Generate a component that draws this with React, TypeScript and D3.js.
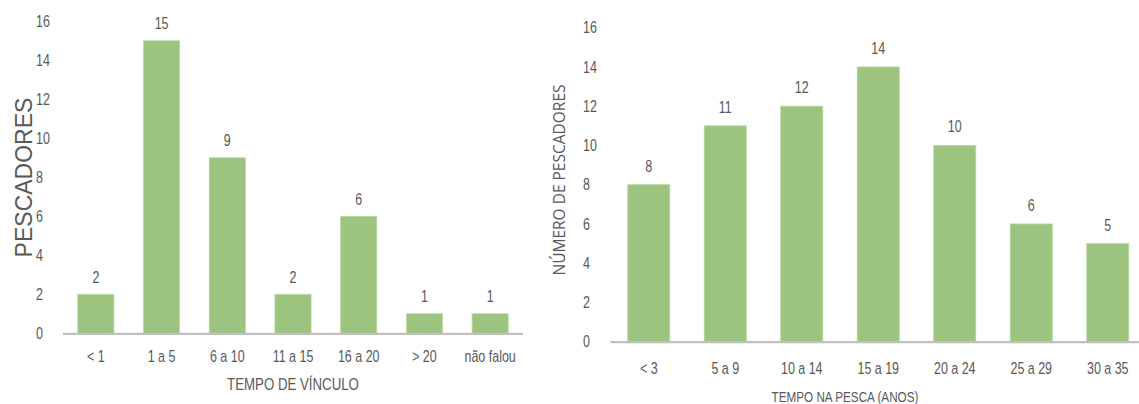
import React from "react";
import * as d3 from "d3";

// Left panel: time of association (years)
const vinculoCategories = ["< 1", "1 a 5", "6 a 10", "11 a 15", "16 a 20", "> 20", "não falou"];
const vinculoValues = [2, 15, 9, 2, 6, 1, 1];

// Right panel: years working in fishing
const pescaCategories = ["< 3", "5 a 9", "10 a 14", "15 a 19", "20 a 24", "25 a 29", "30 a 35"];
const pescaValues = [8, 11, 12, 14, 10, 6, 5];

const yTicks = [0, 2, 4, 6, 8, 10, 12, 14, 16];

const W = 1139;
const H = 404;
const BAR = "#9cc47f";
const BAR_EDGE = "#b9d8a5";
const TEXT = "#595959";
const AXIS = "#c0c0c0";
const FONT = "'Liberation Sans', Arial, sans-serif";

type TxtProps = {
  x: number;
  y: number;
  size: number;
  anchor?: "start" | "middle" | "end";
  sx?: number;
  children: React.ReactNode;
};

// Narrow-looking label: horizontally compressed around its anchor point
function Narrow({ x, y, size, anchor = "middle", sx = 0.78, children }: TxtProps) {
  return (
    <text
      transform={`translate(${x},${y}) scale(${sx},1)`}
      textAnchor={anchor}
      fontFamily={FONT}
      fontSize={size}
      fill={TEXT}
    >
      {children}
    </text>
  );
}

type PanelProps = {
  categories: string[];
  values: number[];
  xRange: [number, number];
  yRange: [number, number];
  tickX: number;
  labelY: number;
  titleX: number;
  titleY: number;
  title: string;
  titleSize: number;
  labelSize: number;
  labelGap: number;
};

function Panel(p: PanelProps) {
  const x = d3
    .scaleBand<string>()
    .domain(p.categories)
    .range(p.xRange)
    .paddingInner(0.45)
    .paddingOuter(0.225);
  const y = d3.scaleLinear().domain([0, 16]).range(p.yRange);

  return (
    <g>
      {yTicks.map((t) => (
        <Narrow key={t} x={p.tickX} y={y(t) + 5.7} size={16} anchor="start">
          {t}
        </Narrow>
      ))}
      {p.categories.map((c, i) => (
        <g key={c}>
          <rect
            x={x(c)!}
            y={y(p.values[i])}
            width={x.bandwidth()}
            height={y(0) - y(p.values[i])}
            fill={BAR}
            stroke={BAR_EDGE}
            strokeWidth={0.8}
          />
          <Narrow x={x(c)! + x.bandwidth() / 2} y={y(p.values[i]) - p.labelGap} size={16}>
            {p.values[i]}
          </Narrow>
          <Narrow x={x(c)! + x.bandwidth() / 2} y={p.labelY} size={p.labelSize}>
            {c}
          </Narrow>
        </g>
      ))}
      <line
        x1={p.xRange[0]}
        x2={p.xRange[1]}
        y1={y(0) + 0.5}
        y2={y(0) + 0.5}
        stroke={AXIS}
        strokeWidth={2.2}
      />
      <Narrow x={p.titleX} y={p.titleY} size={p.titleSize}>
        {p.title}
      </Narrow>
    </g>
  );
}

export default function App() {
  return (
    <svg
      width={W}
      height={H}
      viewBox={`0 0 ${W} ${H}`}
      style={{ position: "absolute", left: 0, top: 0, background: "#fff" }}
    >
      <Panel
        categories={vinculoCategories}
        values={vinculoValues}
        xRange={[63, 523]}
        yRange={[333.3, 21.3]}
        tickX={36}
        labelY={361.5}
        titleX={293}
        titleY={389.5}
        title="TEMPO DE VÍNCULO"
        titleSize={17}
        labelSize={16}
        labelGap={11.5}
      />
      <text
        transform="translate(31.5,177.5) rotate(-90)"
        textAnchor="middle"
        fontFamily={FONT}
        fontSize={23}
        fill={TEXT}
      >
        PESCADORES
      </text>

      <Panel
        categories={pescaCategories}
        values={pescaValues}
        xRange={[610.5, 1146]}
        yRange={[341.7, 27.7]}
        tickX={583}
        labelY={373.5}
        titleX={845}
        titleY={401.5}
        title="TEMPO NA PESCA (ANOS)"
        titleSize={15}
        labelSize={16}
        labelGap={13}
      />
      <text
        transform="translate(564.5,180) rotate(-90)"
        textAnchor="middle"
        fontFamily="'Open Sans', sans-serif"
        fontSize={15.5}
        fill={TEXT}
      >
        NÚMERO DE PESCADORES
      </text>
    </svg>
  );
}
